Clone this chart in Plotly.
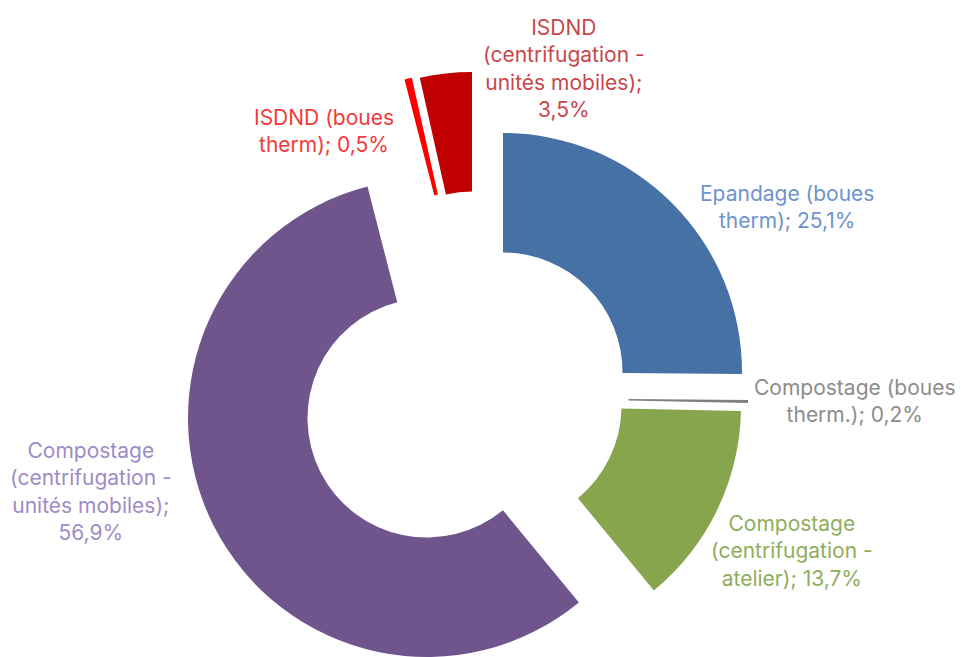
import plotly.graph_objects as go

# ---- data ----
categories = [
    "Epandage (boues therm)",
    "Compostage (boues therm.)",
    "Compostage (centrifugation - atelier)",
    "Compostage (centrifugation - unités mobiles)",
    "ISDND (boues therm)",
    "ISDND (centrifugation - unités mobiles)",
]
shares = [25.1, 0.2, 13.7, 56.9, 0.5, 3.5]
label_texts = [
    "Epandage (boues<br>therm); 25,1%",
    "Compostage (boues<br>therm.); 0,2%",
    "Compostage<br>(centrifugation -<br>atelier); 13,7%",
    "Compostage<br>(centrifugation -<br>unités mobiles);<br>56,9%",
    "ISDND (boues<br>therm); 0,5%",
    "ISDND<br>(centrifugation -<br>unités mobiles);<br>3,5%",
]

# ---- styles / layout ----
PAGE_OFF = 8            # default body margin of the html page
W, H = 964 - PAGE_OFF, 657 - PAGE_OFF
R = 239  # outer radius in px
slice_colors = ["#4671a5", "#7f7f7f", "#87a54c", "#6f558c", "#ff0000", "#c00000"]
text_colors = ["#6e93cd", "#8c8c8c", "#8fae5c", "#9d8cc6", "#f23a3a", "#c8474a"]
# exploded slice centres (screen px)
slice_centers = [(503, 372), (509, 398), (502, 406), (427, 418), (464, 311), (472, 311)]
label_pos = [(787, 207), (855, 401), (792, 551), (91, 491), (324, 131), (564, 69)]


def fx(x):
    return (x - PAGE_OFF) / W


def fy(y):
    return 1 - (y - PAGE_OFF) / H


fig = go.Figure()
for i, (cx, cy) in enumerate(slice_centers):
    cols = ["rgba(0,0,0,0)"] * len(shares)
    cols[i] = slice_colors[i]
    fig.add_trace(go.Pie(
        labels=categories,
        values=shares,
        sort=False,
        direction="clockwise",
        rotation=0,
        hole=0.5,
        marker=dict(colors=cols, line=dict(width=0)),
        textinfo="none",
        hoverinfo="label+percent",
        showlegend=False,
        domain=dict(
            x=[max(0, fx(cx - R)), min(1, fx(cx + R))],
            y=[max(0, fy(cy + R)), min(1, fy(cy - R))],
        ),
    ))

for txt, col, (x, y) in zip(label_texts, text_colors, label_pos):
    fig.add_annotation(
        x=fx(x), y=fy(y), xref="paper", yref="paper",
        text=txt, showarrow=False, align="center",
        xanchor="center", yanchor="middle",
        font=dict(family="Inter", size=21, color=col),
    )

fig.update_layout(
    width=W, height=H,
    margin=dict(l=0, r=0, t=0, b=0),
    paper_bgcolor="white", plot_bgcolor="white",
)
fig.write_html("out.html")
